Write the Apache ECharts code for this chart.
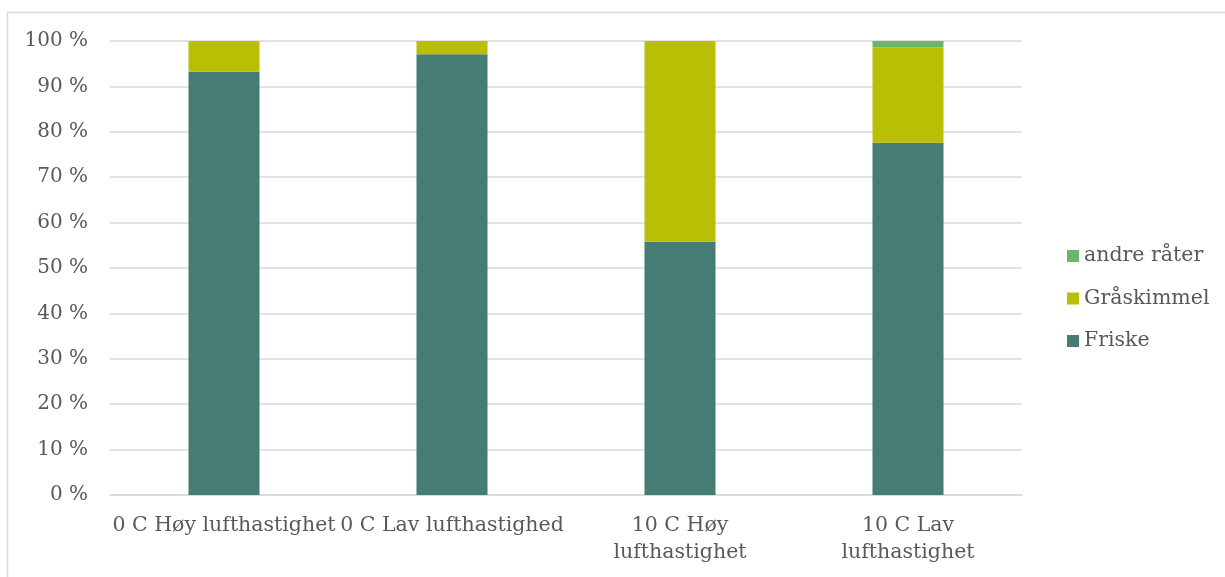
<!DOCTYPE html>
<html>
<head>
<meta charset="utf-8">
<script src="https://cdn.jsdelivr.net/npm/echarts@6/dist/echarts.min.js"></script>
<style>
  html, body { margin: 0; padding: 0; background: #ffffff; }
  #chart { width: 1225px; height: 577px; }
</style>
</head>
<body>
<div id="chart"></div>
<script>
// Storage trial: share of fruit by condition after storage
const categories = ['0 C Høy lufthastighet', '0 C Lav lufthastighed', '10 C Høy lufthastighet', '10 C Lav lufthastighet'];
const friske = [93.2, 97.1, 55.8, 77.6];
const graskimmel = [6.8, 2.9, 44.2, 21.0];
const andreRater = [0, 0, 0, 1.4];
const yTicks = [0, 10, 20, 30, 40, 50, 60, 70, 80, 90, 100];

const FONT = 'DejaVu Serif';
const TEXT = '#595959';

const chart = echarts.init(document.getElementById('chart'), null, { renderer: 'canvas' });

function barSeries(name, data, color) {
  return {
    name: name,
    type: 'bar',
    stack: 'total',
    data: data,
    barWidth: 71,
    itemStyle: { color: color },
    emphasis: { disabled: true }
  };
}

chart.setOption({
  animation: false,
  backgroundColor: '#ffffff',
  graphic: [{
    type: 'rect',
    shape: { x: 7.5, y: 12.5, width: 1240, height: 600 },
    style: { fill: 'none', stroke: '#d9d9d9', lineWidth: 1.5 },
    silent: true
  }],
  grid: { left: 110, right: 203, top: 41, bottom: 82 },
  legend: {
    orient: 'vertical',
    left: 1062,
    top: 240,
    itemWidth: 12,
    itemHeight: 12,
    itemGap: 20.5,
    icon: 'rect',
    data: ['andre råter', 'Gråskimmel', 'Friske'],
    textStyle: { fontFamily: FONT, fontSize: 20.5, lineHeight: 22, color: TEXT, padding: [0, 0, 0, 0] }
  },
  xAxis: {
    type: 'category',
    data: categories,
    axisTick: { show: false },
    axisLine: { lineStyle: { color: '#d9d9d9', width: 1.5 } },
    axisLabel: {
      fontFamily: FONT,
      fontSize: 20.5,
      color: TEXT,
      margin: 17,
      lineHeight: 27,
      interval: 0,
      formatter: function (v) {
        if (v.length > 21) {
          const i = v.lastIndexOf(' ');
          return v.slice(0, i) + '\n' + v.slice(i + 1);
        }
        return v;
      }
    }
  },
  yAxis: {
    type: 'value',
    min: yTicks[0],
    max: yTicks[yTicks.length - 1],
    interval: 10,
    axisLine: { show: false },
    axisTick: { show: false },
    splitLine: { lineStyle: { color: '#d9d9d9', width: 1.5 } },
    axisLabel: {
      fontFamily: FONT,
      fontSize: 20,
      color: TEXT,
      margin: 22,
      formatter: function (v) { return v + ' %'; }
    }
  },
  series: [
    barSeries('Friske', friske, '#457c73'),
    barSeries('Gråskimmel', graskimmel, '#b9bf05'),
    barSeries('andre råter', andreRater, '#69b66c')
  ]
});
</script>
</body>
</html>
